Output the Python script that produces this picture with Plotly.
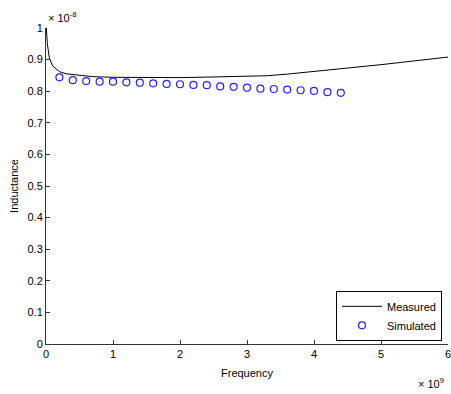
import plotly.graph_objects as go

# Measured (frequency in units of 1e9 Hz, inductance in units of 1e-8 H)
meas_freq = [0.0, 0.005, 0.02, 0.05, 0.1, 0.2, 0.3, 0.5, 0.7, 1.0, 1.5, 2.0, 2.5, 3.0,
             3.3, 3.6, 3.9, 4.2, 4.5, 5.0, 5.5, 6.0]
meas_ind = [1.0, 1.0, 0.95, 0.905, 0.88, 0.862, 0.855, 0.85, 0.846, 0.844, 0.843, 0.843,
            0.845, 0.847, 0.849, 0.854, 0.860, 0.866, 0.873, 0.884, 0.896, 0.908]

# Simulated
sim_freq = [0.2, 0.4, 0.6, 0.8, 1.0, 1.2, 1.4, 1.6, 1.8, 2.0, 2.2, 2.4, 2.6, 2.8,
            3.0, 3.2, 3.4, 3.6, 3.8, 4.0, 4.2, 4.4]
sim_ind = [0.844, 0.835, 0.832, 0.830, 0.830, 0.828, 0.827, 0.825, 0.823, 0.822, 0.820,
           0.819, 0.815, 0.814, 0.811, 0.808, 0.807, 0.805, 0.803, 0.801, 0.797, 0.795]

x_ticks = [0, 1, 2, 3, 4, 5, 6]
y_ticks = [0, 0.1, 0.2, 0.3, 0.4, 0.5, 0.6, 0.7, 0.8, 0.9, 1]

font = dict(family="Liberation Sans, Arial, sans-serif", size=11, color="black")

fig = go.Figure()
fig.add_trace(go.Scatter(x=meas_freq, y=meas_ind, mode="lines", name="Measured",
                         line=dict(color="black", width=1)))
fig.add_trace(go.Scatter(x=sim_freq, y=sim_ind, mode="markers", name="Simulated",
                         marker=dict(symbol="circle-open", size=7, color="#2020ff",
                                     line=dict(width=1.2, color="#2020ff"))))

axis_common = dict(showline=True, linecolor="#333333", linewidth=1, ticks="inside",
                   ticklen=4, tickcolor="#333333", showgrid=False, zeroline=False,
                   mirror=False, tickfont=font, ticklabeloverflow="allow",
                   automargin=False)

fig.update_layout(
    width=451, height=394,
    margin=dict(l=46, r=3, t=28, b=50),
    paper_bgcolor="white", plot_bgcolor="white",
    font=font,
    showlegend=True,
    legend=dict(x=0.985, y=0.01, xanchor="right", yanchor="bottom",
                bordercolor="black", borderwidth=1, bgcolor="white",
                font=font, tracegroupgap=0, itemwidth=40),
    xaxis=dict(range=[0, 6], tickvals=x_ticks, ticktext=[str(t) for t in x_ticks],
               title=dict(text="Frequency", font=font, standoff=10), **axis_common),
    yaxis=dict(range=[0, 1], tickvals=y_ticks,
               ticktext=["0", "0.1", "0.2", "0.3", "0.4", "0.5", "0.6", "0.7", "0.8", "0.9", "1"],
               title=dict(text="Inductance", font=font, standoff=6), **axis_common),
    annotations=[
        dict(text="× 10<sup>9</sup>", xref="paper", yref="paper", x=0.995, y=0.0,
             xanchor="right", yanchor="top", showarrow=False, font=font, yshift=-30),
        dict(text="× 10<sup>-8</sup>", xref="paper", yref="paper", x=0.0, y=1.0,
             xanchor="left", yanchor="bottom", showarrow=False, font=font, yshift=2),
    ],
)

fig.write_html("out.html")
